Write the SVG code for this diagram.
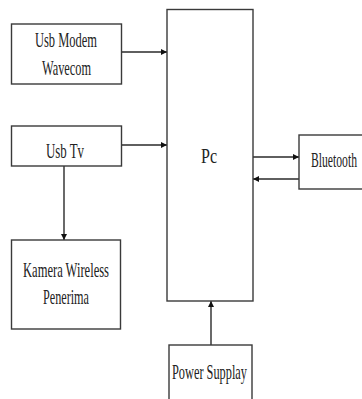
<svg xmlns="http://www.w3.org/2000/svg" width="362" height="399" viewBox="0 0 362 399">
<style>
.box{fill:#fff;stroke:#3a3a3a;stroke-width:1.4}
.ln{fill:none;stroke:#2a2a2a;stroke-width:1.4}
.t{font-family:"Liberation Serif","Times New Roman",serif;font-size:21px;fill:#222}
</style>
<defs>
<marker id="ah" viewBox="0 0 10 10" refX="10" refY="5" markerWidth="6" markerHeight="6" markerUnits="userSpaceOnUse" orient="auto">
<path d="M0,0 L10,5 L0,10 z" fill="#111"/>
</marker>
</defs>
<rect width="362" height="399" fill="#fff"/>
<g id="connectors">
<line class="ln" x1="122" y1="52" x2="167" y2="52" marker-end="url(#ah)"/>
<line class="ln" x1="122" y1="145" x2="167" y2="145" marker-end="url(#ah)"/>
<line class="ln" x1="64" y1="166" x2="64" y2="240" marker-end="url(#ah)"/>
<line class="ln" x1="253" y1="157" x2="299" y2="157" marker-end="url(#ah)"/>
<line class="ln" x1="299" y1="179" x2="253" y2="179" marker-end="url(#ah)"/>
<line class="ln" x1="211" y1="345" x2="211" y2="301" marker-end="url(#ah)"/>
</g>
<g id="usb-modem">
<rect class="box" x="11.5" y="24" width="110" height="60"/>
<text class="t" x="35" y="47" textLength="62" lengthAdjust="spacingAndGlyphs">Usb Modem</text>
<text class="t" x="42" y="75" textLength="49" lengthAdjust="spacingAndGlyphs">Wavecom</text>
</g>
<g id="usb-tv">
<rect class="box" x="11.5" y="126" width="110" height="40"/>
<text class="t" x="46" y="158" textLength="38" lengthAdjust="spacingAndGlyphs">Usb Tv</text>
</g>
<g id="kamera">
<rect class="box" x="11.5" y="240" width="109" height="89"/>
<text class="t" x="23" y="277" textLength="86" lengthAdjust="spacingAndGlyphs">Kamera Wireless</text>
<text class="t" x="43" y="304" textLength="46" lengthAdjust="spacingAndGlyphs">Penerima</text>
</g>
<g id="pc">
<rect class="box" x="167" y="9.5" width="86" height="291.5"/>
<text class="t" x="201" y="163" textLength="16" lengthAdjust="spacingAndGlyphs">Pc</text>
</g>
<g id="bluetooth">
<rect class="box" x="299" y="135" width="80" height="54"/>
<text class="t" x="311" y="167" textLength="46" lengthAdjust="spacingAndGlyphs">Bluetooth</text>
</g>
<g id="power-supply">
<rect class="box" x="169" y="345" width="83" height="70"/>
<text class="t" x="172" y="379" textLength="75" lengthAdjust="spacingAndGlyphs">Power Supplay</text>
</g>
</svg>
